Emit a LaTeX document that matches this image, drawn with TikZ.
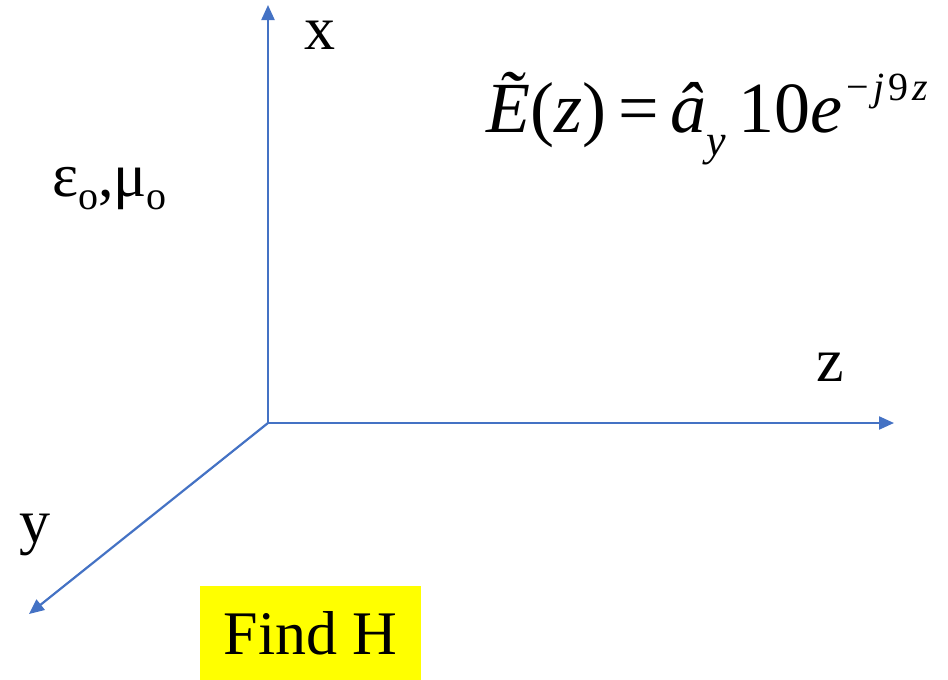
\documentclass[tikz,border=0pt]{standalone}
\usepackage{fontspec}
\setmainfont{LiberationSerif}[Extension=.ttf, UprightFont=*-Regular, ItalicFont=*-Italic, BoldFont=*-Bold, BoldItalicFont=*-BoldItalic]
\usetikzlibrary{arrows.meta}
\definecolor{axisblue}{HTML}{4472C4}
\definecolor{hiyellow}{HTML}{FFFF00}
\tikzset{
  axis/.style={draw=axisblue, line width=2.2pt, -{Triangle[length=15pt,width=13pt]}},
  lbl/.style={inner sep=0pt, font=\fontsize{62}{70}\selectfont},
}
\begin{document}
\begin{tikzpicture}[x=1pt,y=-1pt]
\useasboundingbox (0,0) rectangle (948,680);
\coordinate (O) at (268,423);
\coordinate (xt) at (268,5);
\coordinate (zt) at (894,423);
\coordinate (yt) at (29,614);
\draw[axis] (O) -- (xt);
\draw[axis] (O) -- (zt);
\draw[axis] (O) -- (yt);
\node[lbl] (xl) at (320,35) {x};
\node[lbl] (zl) at (830,367) {z};
\node[lbl] (yl) at (35,535) {y};
\node[lbl, anchor=base west] (eps) at (52,196) {ε\raisebox{-0.22em}{\fontsize{40}{44}\selectfont o},μ\raisebox{-0.22em}{\fontsize{40}{44}\selectfont o}};
\node[inner sep=0pt, anchor=base west, font=\fontsize{72}{80}\selectfont] (eq) at (486,132)
  {\textit{\~{E}}(\textit{z})\,=\,\textit{\^{a}}\raisebox{-0.32em}{\fontsize{44}{48}\selectfont\textit{y}}\,10\textit{e}\hspace{4pt}\raisebox{0.44em}{\fontsize{40}{44}\selectfont −\hspace{5pt}\textit{j}\hspace{4pt}9\hspace{4pt}\textit{z}}};
\node[fill=hiyellow, minimum width=221pt, minimum height=94pt, inner sep=0pt, anchor=north west, font=\fontsize{62}{70}\selectfont] (find) at (200,586) {Find H};
\end{tikzpicture}
\end{document}
